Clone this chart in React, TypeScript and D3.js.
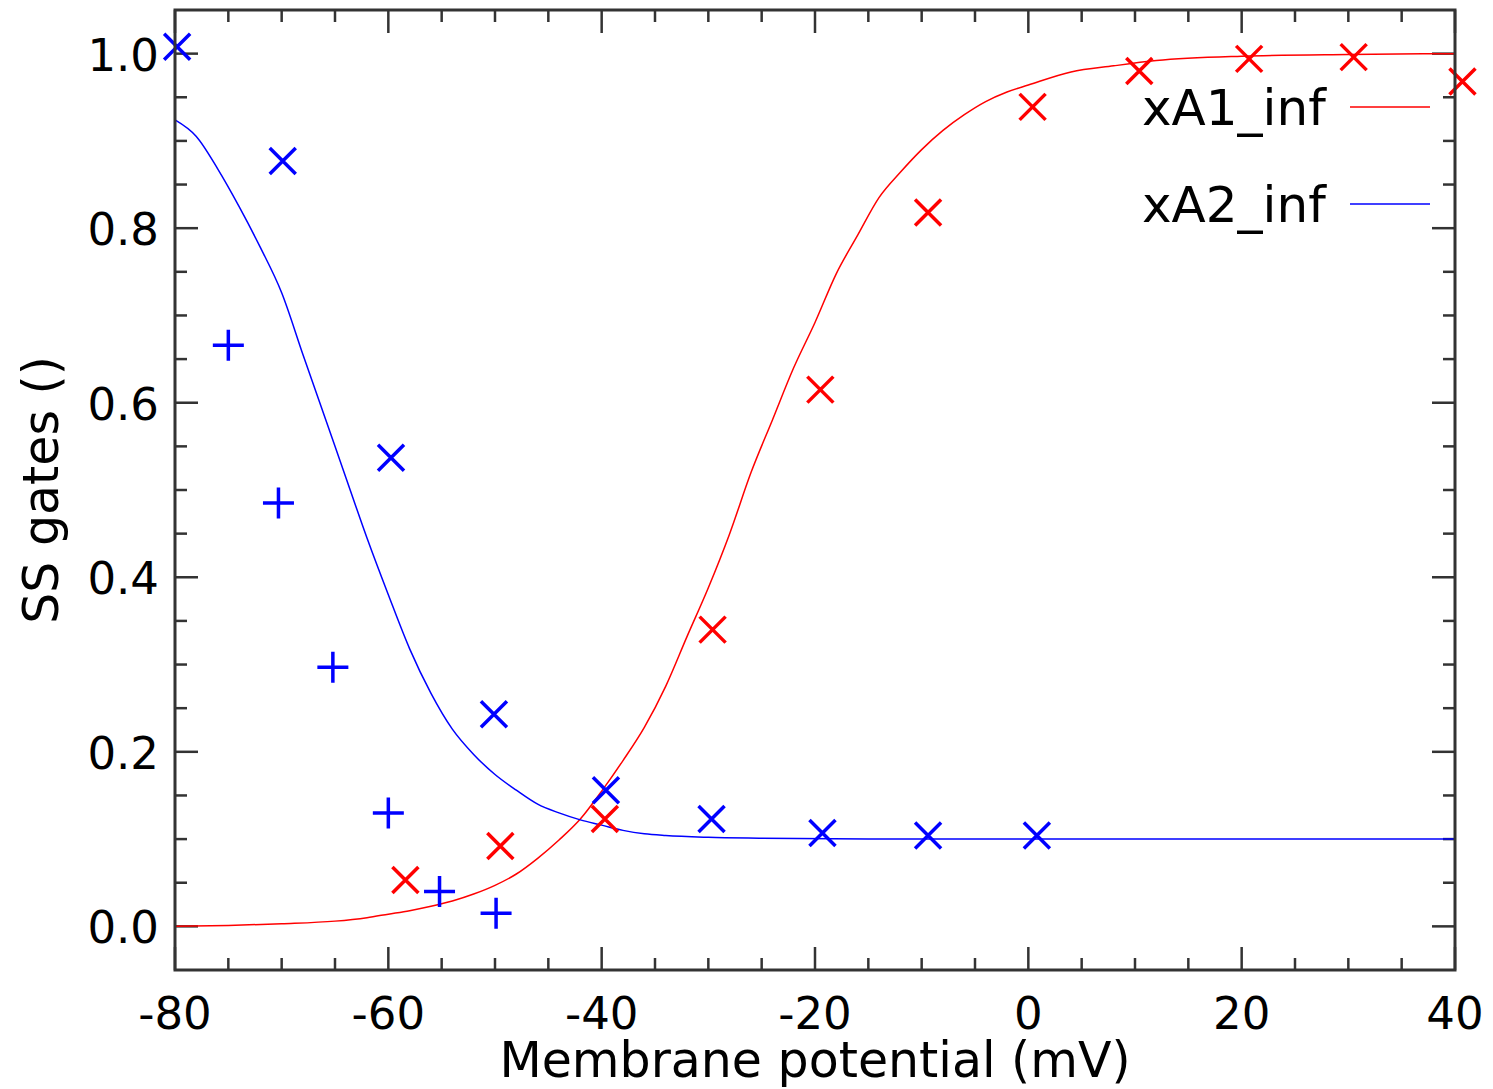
import React from 'react'
import * as d3 from 'd3'

// fitted curves
const xA1Curve = [
  [-80, 0.0], [-75, 0.001], [-70, 0.003], [-65, 0.006], [-62, 0.01], [-60, 0.014], [-58, 0.018],
  [-56, 0.023], [-54, 0.029], [-52, 0.037], [-50, 0.047], [-48, 0.06], [-46, 0.078], [-44, 0.099],
  [-42, 0.123], [-40, 0.155], [-38, 0.19], [-36, 0.228], [-34, 0.275], [-32, 0.332], [-30, 0.388],
  [-28, 0.45], [-26, 0.52], [-24, 0.58], [-22, 0.64], [-20, 0.692], [-18, 0.748], [-16, 0.792],
  [-14, 0.835], [-12, 0.864], [-10, 0.89], [-8, 0.912], [-6, 0.93], [-4, 0.945], [-2, 0.956],
  [0, 0.964], [4, 0.979], [8, 0.986], [12, 0.992], [20, 0.997], [30, 0.999], [40, 1.0],
]
const xA2Curve = [
  [-80, 0.924], [-78, 0.905], [-76, 0.868], [-74, 0.825], [-72, 0.778], [-70, 0.726], [-68, 0.655],
  [-66, 0.585], [-64, 0.515], [-62, 0.445], [-60, 0.38], [-58, 0.318], [-56, 0.267], [-54, 0.226],
  [-52, 0.197], [-50, 0.174], [-48, 0.156], [-46, 0.14], [-44, 0.13], [-42, 0.122], [-40, 0.116],
  [-38, 0.11], [-36, 0.106], [-34, 0.104], [-30, 0.102], [-25, 0.101], [-15, 0.1], [0, 0.1],
  [20, 0.1], [40, 0.1],
]

// experimental points
const xA1Points = [
  [-58.4, 0.053], [-49.5, 0.092], [-39.7, 0.123], [-29.6, 0.34], [-19.5, 0.615], [-9.4, 0.818],
  [0.4, 0.939], [10.4, 0.98], [20.7, 0.994], [30.5, 0.996], [40.7, 0.968],
]
const xA2PointsX = [
  [-79.8, 1.008], [-69.9, 0.877], [-59.75, 0.537], [-50.1, 0.243], [-39.6, 0.156], [-29.7, 0.123],
  [-19.3, 0.107], [-9.4, 0.104], [0.8, 0.104],
]
const xA2PointsPlus = [
  [-75.0, 0.666], [-70.3, 0.485], [-65.2, 0.297], [-60.0, 0.13], [-55.2, 0.04], [-49.9, 0.015],
]

const xMajor = [-80, -60, -40, -20, 0, 20, 40]
const xMinor = d3.range(-80, 40.01, 5)
const yMajor = [0, 0.2, 0.4, 0.6, 0.8, 1.0]
const yMinor = d3.range(0, 1.001, 0.05)

const legend = [
  { label: 'xA1_inf', color: '#ff0000' },
  { label: 'xA2_inf', color: '#0000ff' },
]

const W = 1493, H = 1089
const L = 175, R = 1455, T = 10, B = 970
const font = 'DejaVu Sans, sans-serif'
const axisColor = '#333'

const App = () => {
  const x = d3.scaleLinear().domain([-80, 40]).range([L, R])
  const y = d3.scaleLinear().domain([-0.05, 1.05]).range([B, T])
  const path = d3.line<number[]>().x(d => x(d[0])).y(d => y(d[1])).curve(d3.curveMonotoneX)

  const isMajorX = (v: number) => xMajor.some(m => Math.abs(m - v) < 1e-6)
  const isMajorY = (v: number) => yMajor.some(m => Math.abs(m - v) < 1e-6)

  const cross = (p: number[], c: string, i: number) => {
    const cx = x(p[0]), cy = y(p[1]), s = 13
    return <path key={i} d={`M${cx - s},${cy - s}L${cx + s},${cy + s}M${cx - s},${cy + s}L${cx + s},${cy - s}`} stroke={c} strokeWidth={3.5} fill='none' />
  }
  const plus = (p: number[], c: string, i: number) => {
    const cx = x(p[0]), cy = y(p[1]), s = 15.5
    return <path key={i} d={`M${cx - s},${cy}L${cx + s},${cy}M${cx},${cy - s}L${cx},${cy + s}`} stroke={c} strokeWidth={3.5} fill='none' />
  }

  return (
    <svg width={W} height={H} style={{ position: 'absolute', left: 0, top: 0, background: '#fff' }} fontFamily={font}>
      <rect x={0} y={0} width={W} height={H} fill='#fff' />
      {/* ticks, all pointing inward, on four sides */}
      <g stroke={axisColor} strokeWidth={2.5}>
        {xMinor.map((v, i) => {
          const len = isMajorX(v) ? 23 : 12
          return (
            <g key={'xt' + i}>
              <line x1={x(v)} x2={x(v)} y1={B} y2={B - len} />
              <line x1={x(v)} x2={x(v)} y1={T} y2={T + len} />
            </g>
          )
        })}
        {yMinor.map((v, i) => {
          const len = isMajorY(v) ? 23 : 12
          return (
            <g key={'yt' + i}>
              <line x1={L} x2={L + len} y1={y(v)} y2={y(v)} />
              <line x1={R} x2={R - len} y1={y(v)} y2={y(v)} />
            </g>
          )
        })}
      </g>

      <path d={path(xA1Curve) || ''} fill='none' stroke='#ff0000' strokeWidth={1.5} />
      <path d={path(xA2Curve) || ''} fill='none' stroke='#0000ff' strokeWidth={1.5} />

      {xA1Points.map((p, i) => cross(p, '#ff0000', i))}
      {xA2PointsX.map((p, i) => cross(p, '#0000ff', i))}
      {xA2PointsPlus.map((p, i) => plus(p, '#0000ff', i))}

      <rect x={L} y={T} width={R - L} height={B - T} fill='none' stroke={axisColor} strokeWidth={3} />

      {/* tick labels */}
      <g fontSize={45} fill='#000'>
        {xMajor.map(v => (
          <text key={'xl' + v} x={x(v)} y={1029} textAnchor='middle'>{v}</text>
        ))}
        {yMajor.map(v => (
          <text key={'yl' + v} x={159} y={y(v) + 17} textAnchor='end'>{v.toFixed(1)}</text>
        ))}
      </g>

      <text x={(L + R) / 2} y={1077} fontSize={49} textAnchor='middle' fill='#000'>Membrane potential (mV)</text>
      <text transform={`translate(58,${(T + B) / 2}) rotate(-90)`} fontSize={49} textAnchor='middle' fill='#000'>SS gates ()</text>

      {/* legend */}
      {legend.map((d, i) => (
        <g key={d.label} transform={`translate(0,${i * 97})`}>
          <text x={1142} y={125} fontSize={50} fill='#000'>{d.label}</text>
          <line x1={1350} x2={1430} y1={107} y2={107} stroke={d.color} strokeWidth={1.5} />
        </g>
      ))}
    </svg>
  )
}

export default App
